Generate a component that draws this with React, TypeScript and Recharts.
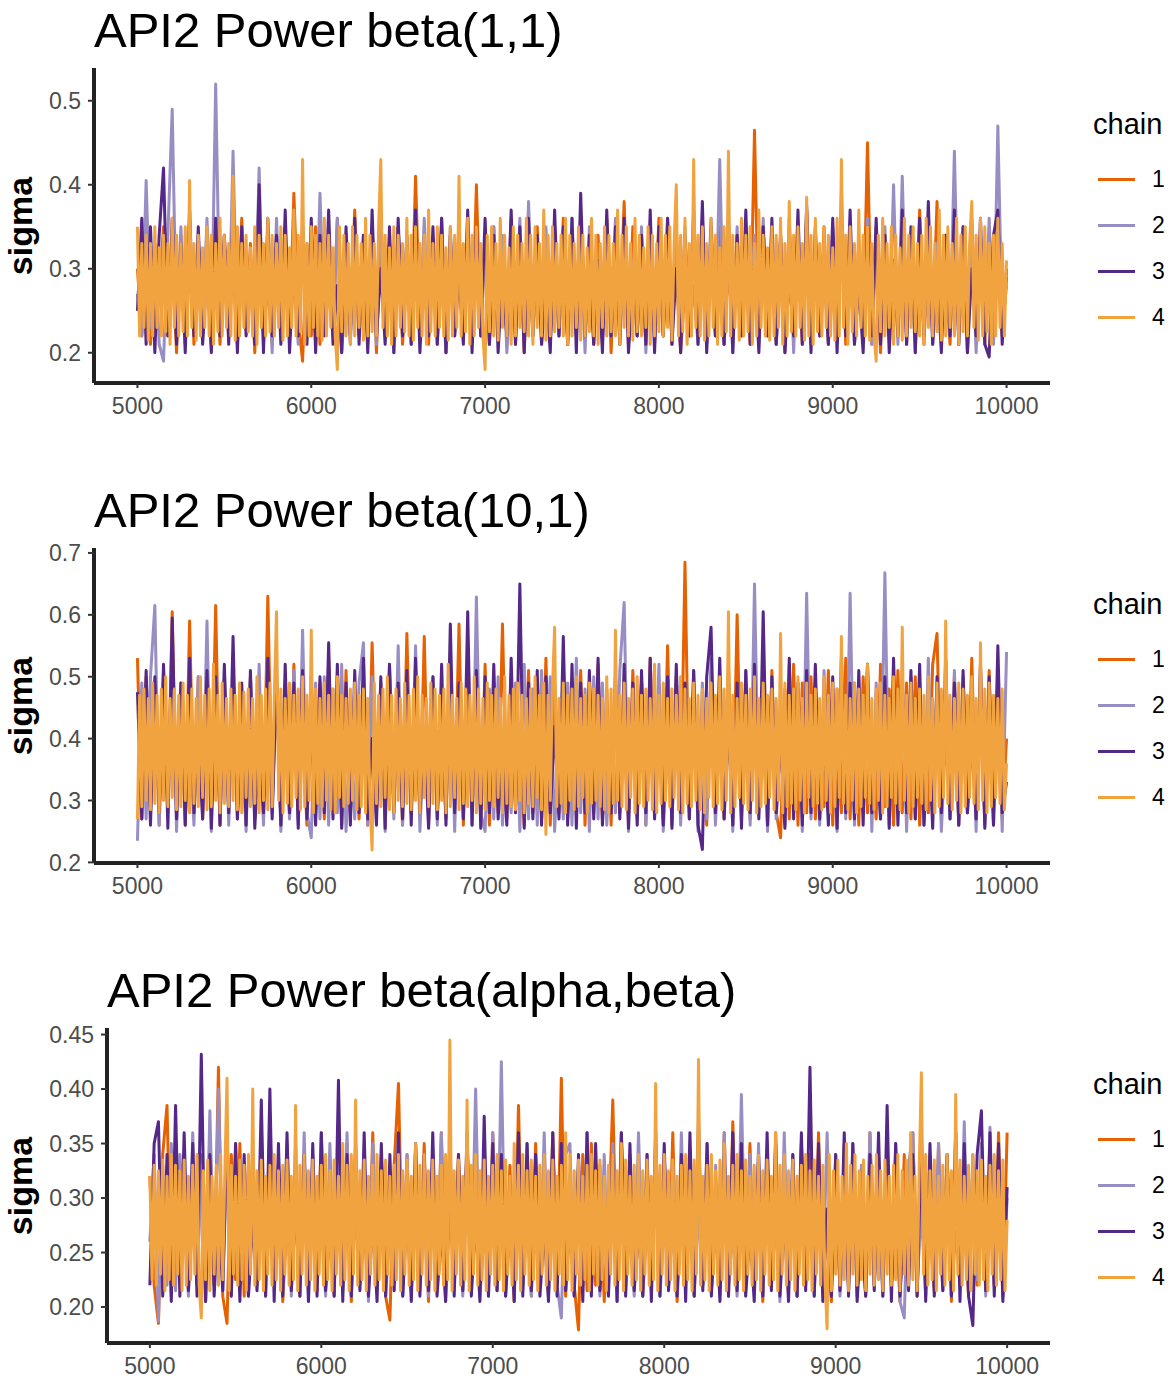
import { LineChart, Line, XAxis, YAxis } from "recharts";

// draws 5000..10000; chains 1-3 thinned to every 25th draw, chain 4 to every 12.5th
const xTicks = [5000, 6000, 7000, 8000, 9000, 10000];
const chains = ["1", "2", "3", "4"];
const chainColors = ["#e66101", "#998ec3", "#542788", "#f1a340"];

// panel 1: beta(1,1)
const p1Chain1 = [
  0.30, 0.22, 0.34, 0.21, 0.33, 0.27, 0.35, 0.22, 0.31, 0.20, 0.34, 0.23, 0.36, 0.21, 0.29, 0.22, 0.35, 0.24, 0.33, 0.21,
  0.34, 0.22, 0.30, 0.21, 0.36, 0.23, 0.33, 0.20, 0.35, 0.22, 0.28, 0.21, 0.34, 0.23, 0.35, 0.22, 0.39, 0.24, 0.19, 0.33,
  0.22, 0.35, 0.21, 0.34, 0.27, 0.22, 0.36, 0.21, 0.33, 0.23, 0.37, 0.22, 0.30, 0.21, 0.35, 0.20, 0.34, 0.23, 0.33, 0.22,
  0.35, 0.21, 0.29, 0.22, 0.41, 0.23, 0.34, 0.21, 0.33, 0.22, 0.36, 0.20, 0.31, 0.23, 0.35, 0.22, 0.34, 0.21, 0.40, 0.22,
  0.33, 0.21, 0.35, 0.23, 0.28, 0.22, 0.36, 0.21, 0.34, 0.20, 0.33, 0.22, 0.35, 0.23, 0.30, 0.21, 0.34, 0.22, 0.36, 0.21,
  0.33, 0.23, 0.35, 0.22, 0.29, 0.21, 0.34, 0.22, 0.36, 0.20, 0.33, 0.23, 0.38, 0.21, 0.35, 0.22, 0.31, 0.21, 0.34, 0.23,
  0.36, 0.22, 0.33, 0.21, 0.35, 0.20, 0.28, 0.22, 0.34, 0.23, 0.36, 0.21, 0.33, 0.22, 0.35, 0.21, 0.30, 0.23, 0.34, 0.22,
  0.33, 0.21, 0.465, 0.22, 0.35, 0.23, 0.29, 0.21, 0.34, 0.20, 0.36, 0.22, 0.33, 0.21, 0.37, 0.23, 0.31, 0.22, 0.35, 0.21,
  0.34, 0.22, 0.36, 0.21, 0.28, 0.23, 0.33, 0.22, 0.45, 0.21, 0.35, 0.20, 0.34, 0.22, 0.30, 0.23, 0.36, 0.21, 0.33, 0.22,
  0.37, 0.21, 0.34, 0.22, 0.38, 0.23, 0.29, 0.21, 0.35, 0.22, 0.33, 0.20, 0.36, 0.22, 0.31, 0.21, 0.34, 0.23, 0.35, 0.22,
  0.29,
];
const p1Chain2 = [
  0.27, 0.22, 0.405, 0.23, 0.33, 0.21, 0.19, 0.34, 0.49, 0.22, 0.35, 0.21, 0.30, 0.23, 0.34, 0.22, 0.36, 0.21, 0.52, 0.23,
  0.33, 0.22, 0.44, 0.21, 0.35, 0.23, 0.29, 0.22, 0.42, 0.21, 0.34, 0.20, 0.36, 0.22, 0.33, 0.23, 0.30, 0.21, 0.35, 0.22,
  0.34, 0.21, 0.39, 0.23, 0.33, 0.22, 0.36, 0.20, 0.28, 0.21, 0.35, 0.22, 0.34, 0.23, 0.31, 0.21, 0.36, 0.22, 0.33, 0.20,
  0.35, 0.22, 0.30, 0.21, 0.34, 0.23, 0.36, 0.22, 0.33, 0.21, 0.29, 0.20, 0.35, 0.22, 0.34, 0.23, 0.36, 0.21, 0.31, 0.22,
  0.33, 0.21, 0.35, 0.22, 0.34, 0.20, 0.28, 0.23, 0.36, 0.21, 0.38, 0.22, 0.33, 0.21, 0.35, 0.23, 0.30, 0.22, 0.34, 0.21,
  0.36, 0.22, 0.33, 0.20, 0.35, 0.23, 0.29, 0.21, 0.34, 0.22, 0.36, 0.21, 0.33, 0.23, 0.31, 0.22, 0.35, 0.20, 0.34, 0.21,
  0.30, 0.22, 0.36, 0.23, 0.33, 0.21, 0.35, 0.22, 0.28, 0.21, 0.34, 0.23, 0.36, 0.22, 0.43, 0.21, 0.33, 0.20, 0.35, 0.22,
  0.31, 0.23, 0.34, 0.21, 0.36, 0.22, 0.33, 0.21, 0.29, 0.22, 0.35, 0.20, 0.34, 0.23, 0.36, 0.21, 0.30, 0.22, 0.33, 0.21,
  0.35, 0.22, 0.39, 0.23, 0.34, 0.21, 0.28, 0.22, 0.36, 0.21, 0.33, 0.23, 0.35, 0.22, 0.40, 0.21, 0.41, 0.22, 0.31, 0.20,
  0.34, 0.22, 0.36, 0.21, 0.33, 0.23, 0.29, 0.22, 0.44, 0.21, 0.35, 0.22, 0.34, 0.20, 0.33, 0.22, 0.36, 0.21, 0.47, 0.23,
  0.28,
];
const p1Chain3 = [
  0.25, 0.36, 0.21, 0.35, 0.20, 0.34, 0.42, 0.22, 0.36, 0.21, 0.33, 0.20, 0.37, 0.22, 0.35, 0.21, 0.30, 0.20, 0.36, 0.22,
  0.34, 0.21, 0.37, 0.20, 0.35, 0.22, 0.29, 0.21, 0.40, 0.20, 0.36, 0.22, 0.34, 0.21, 0.37, 0.20, 0.31, 0.22, 0.35, 0.21,
  0.36, 0.20, 0.34, 0.22, 0.37, 0.21, 0.28, 0.20, 0.35, 0.22, 0.36, 0.21, 0.34, 0.20, 0.37, 0.22, 0.30, 0.21, 0.35, 0.20,
  0.36, 0.22, 0.34, 0.21, 0.37, 0.20, 0.31, 0.22, 0.35, 0.21, 0.36, 0.20, 0.34, 0.22, 0.29, 0.21, 0.37, 0.20, 0.35, 0.22,
  0.36, 0.21, 0.34, 0.20, 0.30, 0.22, 0.37, 0.21, 0.35, 0.20, 0.36, 0.22, 0.34, 0.21, 0.28, 0.20, 0.37, 0.22, 0.35, 0.21,
  0.36, 0.20, 0.39, 0.22, 0.34, 0.21, 0.31, 0.20, 0.37, 0.22, 0.35, 0.21, 0.36, 0.20, 0.29, 0.22, 0.34, 0.21, 0.37, 0.20,
  0.35, 0.22, 0.36, 0.21, 0.30, 0.20, 0.34, 0.22, 0.37, 0.21, 0.38, 0.20, 0.35, 0.22, 0.28, 0.21, 0.36, 0.20, 0.34, 0.22,
  0.37, 0.21, 0.31, 0.20, 0.35, 0.22, 0.36, 0.21, 0.34, 0.20, 0.29, 0.22, 0.37, 0.21, 0.375, 0.20, 0.35, 0.22, 0.30, 0.21,
  0.36, 0.20, 0.34, 0.22, 0.37, 0.21, 0.28, 0.20, 0.35, 0.22, 0.36, 0.21, 0.34, 0.20, 0.31, 0.22, 0.37, 0.21, 0.35, 0.20,
  0.36, 0.22, 0.38, 0.21, 0.29, 0.20, 0.34, 0.22, 0.37, 0.21, 0.35, 0.20, 0.30, 0.22, 0.36, 0.21, 0.195, 0.34, 0.37, 0.21,
  0.30,
];
const p1Chain4 = [
  0.35, 0.22, 0.33, 0.23, 0.34, 0.215, 0.33, 0.22, 0.35, 0.23, 0.325, 0.22, 0.34, 0.225, 0.33, 0.21, 0.36, 0.23, 0.34, 0.22,
  0.33, 0.225, 0.35, 0.22, 0.405, 0.23, 0.33, 0.215, 0.34, 0.22, 0.325, 0.23, 0.35, 0.22, 0.34, 0.21, 0.33, 0.225, 0.36, 0.22,
  0.34, 0.23, 0.33, 0.22, 0.41, 0.215, 0.35, 0.22, 0.33, 0.23, 0.34, 0.225, 0.325, 0.22, 0.35, 0.21, 0.34, 0.23, 0.33, 0.22,
  0.36, 0.225, 0.34, 0.22, 0.33, 0.23, 0.35, 0.215, 0.34, 0.22, 0.325, 0.23, 0.37, 0.22, 0.34, 0.225, 0.43, 0.21, 0.33, 0.22,
  0.35, 0.23, 0.34, 0.22, 0.33, 0.215, 0.36, 0.22, 0.34, 0.23, 0.325, 0.22, 0.18, 0.35, 0.225, 0.34, 0.22, 0.33, 0.21, 0.35,
  0.22, 0.34, 0.23, 0.33, 0.215, 0.36, 0.22, 0.34, 0.225, 0.33, 0.22, 0.35, 0.43, 0.23, 0.34, 0.22, 0.325, 0.21, 0.35, 0.22,
  0.34, 0.23, 0.33, 0.225, 0.36, 0.22, 0.34, 0.215, 0.35, 0.23, 0.33, 0.22, 0.34, 0.21, 0.37, 0.225, 0.33, 0.22, 0.35, 0.23,
  0.34, 0.22, 0.325, 0.215, 0.35, 0.22, 0.34, 0.23, 0.41, 0.22, 0.33, 0.225, 0.36, 0.21, 0.34, 0.22, 0.35, 0.23, 0.33, 0.22,
  0.18, 0.34, 0.225, 0.35, 0.22, 0.33, 0.215, 0.36, 0.23, 0.34, 0.22, 0.325, 0.21, 0.35, 0.22, 0.34, 0.23, 0.33, 0.225, 0.36,
  0.22, 0.34, 0.21, 0.35, 0.23, 0.33, 0.22, 0.37, 0.215, 0.34, 0.22, 0.35, 0.225, 0.33, 0.23, 0.34, 0.22, 0.36, 0.21, 0.34,
  0.22, 0.33, 0.23, 0.35, 0.215, 0.34, 0.22, 0.325, 0.225, 0.36, 0.22, 0.34, 0.21, 0.33, 0.23, 0.35, 0.22, 0.34, 0.225, 0.33,
  0.22, 0.37, 0.21, 0.34, 0.23, 0.35, 0.22, 0.33, 0.215, 0.36, 0.225, 0.34, 0.22, 0.325, 0.23, 0.35, 0.21, 0.34, 0.22, 0.33,
  0.225, 0.36, 0.22, 0.34, 0.23, 0.35, 0.215, 0.33, 0.40, 0.22, 0.34, 0.225, 0.36, 0.21, 0.33, 0.22, 0.43, 0.23, 0.34, 0.22,
  0.35, 0.215, 0.33, 0.22, 0.36, 0.23, 0.34, 0.21, 0.325, 0.22, 0.35, 0.225, 0.44, 0.22, 0.34, 0.23, 0.33, 0.215, 0.36, 0.22,
  0.34, 0.225, 0.35, 0.21, 0.33, 0.22, 0.37, 0.23, 0.34, 0.22, 0.325, 0.215, 0.35, 0.22, 0.34, 0.23, 0.36, 0.21, 0.33, 0.22,
  0.38, 0.225, 0.34, 0.22, 0.35, 0.23, 0.33, 0.215, 0.385, 0.22, 0.34, 0.21, 0.36, 0.225, 0.33, 0.22, 0.35, 0.23, 0.34, 0.22,
  0.325, 0.215, 0.36, 0.22, 0.43, 0.23, 0.34, 0.21, 0.35, 0.225, 0.33, 0.22, 0.37, 0.23, 0.34, 0.22, 0.35, 0.215, 0.33, 0.22,
  0.19, 0.34, 0.225, 0.36, 0.22, 0.33, 0.23, 0.35, 0.21, 0.34, 0.22, 0.325, 0.215, 0.36, 0.22, 0.34, 0.23, 0.35, 0.225, 0.33,
  0.22, 0.34, 0.21, 0.36, 0.23, 0.35, 0.22, 0.33, 0.225, 0.37, 0.215, 0.34, 0.22, 0.35, 0.23, 0.33, 0.22, 0.36, 0.21, 0.34,
  0.225, 0.35, 0.22, 0.33, 0.38, 0.23, 0.34, 0.215, 0.36, 0.22, 0.35, 0.225, 0.33, 0.21, 0.34, 0.22, 0.36, 0.23, 0.33, 0.22,
  0.31,
];

// panel 2: beta(10,1)
const p2Chain1 = [
  0.53, 0.27, 0.50, 0.28, 0.49, 0.26, 0.51, 0.29, 0.605, 0.27, 0.48, 0.26, 0.59, 0.28, 0.50, 0.27, 0.52, 0.29, 0.615, 0.26,
  0.49, 0.28, 0.51, 0.27, 0.40, 0.26, 0.50, 0.28, 0.48, 0.27, 0.63, 0.29, 0.51, 0.26, 0.49, 0.28, 0.52, 0.27, 0.42, 0.26,
  0.50, 0.28, 0.49, 0.27, 0.53, 0.29, 0.48, 0.26, 0.51, 0.28, 0.39, 0.27, 0.50, 0.26, 0.555, 0.28, 0.49, 0.27, 0.52, 0.29,
  0.48, 0.26, 0.57, 0.28, 0.50, 0.27, 0.565, 0.26, 0.49, 0.28, 0.41, 0.27, 0.51, 0.29, 0.585, 0.26, 0.50, 0.28, 0.48, 0.27,
  0.52, 0.26, 0.49, 0.28, 0.585, 0.27, 0.50, 0.29, 0.40, 0.26, 0.51, 0.28, 0.48, 0.27, 0.53, 0.26, 0.49, 0.28, 0.50, 0.27,
  0.42, 0.29, 0.51, 0.26, 0.49, 0.28, 0.52, 0.27, 0.48, 0.26, 0.50, 0.28, 0.39, 0.27, 0.51, 0.29, 0.49, 0.26, 0.53, 0.28,
  0.48, 0.27, 0.55, 0.26, 0.50, 0.28, 0.685, 0.27, 0.49, 0.29, 0.41, 0.26, 0.51, 0.28, 0.48, 0.27, 0.52, 0.26, 0.60, 0.28,
  0.49, 0.27, 0.50, 0.29, 0.40, 0.26, 0.51, 0.28, 0.24, 0.48, 0.27, 0.52, 0.26, 0.49, 0.28, 0.50, 0.27, 0.42, 0.29, 0.51,
  0.26, 0.48, 0.28, 0.53, 0.27, 0.49, 0.26, 0.50, 0.28, 0.39, 0.27, 0.52, 0.29, 0.48, 0.26, 0.51, 0.28, 0.49, 0.27, 0.50,
  0.26, 0.41, 0.28, 0.52, 0.57, 0.27, 0.49, 0.29, 0.50, 0.26, 0.48, 0.28, 0.53, 0.27, 0.49, 0.26, 0.51, 0.28, 0.50, 0.27,
  0.40,
];
const p2Chain2 = [
  0.235, 0.49, 0.27, 0.50, 0.615, 0.26, 0.48, 0.28, 0.51, 0.25, 0.49, 0.27, 0.40, 0.26, 0.50, 0.28, 0.59, 0.25, 0.48, 0.27,
  0.51, 0.26, 0.49, 0.28, 0.41, 0.25, 0.50, 0.27, 0.52, 0.26, 0.48, 0.28, 0.49, 0.25, 0.39, 0.27, 0.51, 0.26, 0.575, 0.28,
  0.24, 0.49, 0.27, 0.50, 0.26, 0.48, 0.28, 0.52, 0.25, 0.40, 0.27, 0.49, 0.555, 0.26, 0.50, 0.28, 0.48, 0.25, 0.51, 0.27,
  0.55, 0.26, 0.49, 0.28, 0.55, 0.25, 0.41, 0.27, 0.50, 0.26, 0.48, 0.28, 0.52, 0.25, 0.49, 0.27, 0.51, 0.26, 0.629, 0.28,
  0.25, 0.48, 0.27, 0.50, 0.26, 0.39, 0.28, 0.49, 0.25, 0.52, 0.27, 0.48, 0.26, 0.51, 0.28, 0.50, 0.25, 0.40, 0.27, 0.49,
  0.26, 0.53, 0.28, 0.48, 0.25, 0.50, 0.27, 0.49, 0.26, 0.41, 0.28, 0.51, 0.62, 0.25, 0.48, 0.27, 0.50, 0.26, 0.49, 0.28,
  0.52, 0.25, 0.39, 0.27, 0.50, 0.26, 0.48, 0.28, 0.51, 0.25, 0.49, 0.27, 0.53, 0.26, 0.40, 0.28, 0.50, 0.25, 0.48, 0.27,
  0.51, 0.26, 0.65, 0.28, 0.49, 0.25, 0.50, 0.27, 0.41, 0.26, 0.52, 0.28, 0.48, 0.25, 0.635, 0.27, 0.49, 0.26, 0.51, 0.28,
  0.39, 0.25, 0.50, 0.27, 0.635, 0.26, 0.48, 0.28, 0.52, 0.25, 0.49, 0.27, 0.668, 0.26, 0.40, 0.28, 0.51, 0.25, 0.50, 0.27,
  0.48, 0.26, 0.53, 0.28, 0.49, 0.25, 0.41, 0.27, 0.51, 0.26, 0.50, 0.28, 0.48, 0.25, 0.52, 0.27, 0.39, 0.26, 0.49, 0.25,
  0.54,
];
const p2Chain3 = [
  0.475, 0.27, 0.51, 0.26, 0.50, 0.28, 0.52, 0.255, 0.595, 0.27, 0.49, 0.26, 0.53, 0.28, 0.41, 0.27, 0.51, 0.255, 0.50, 0.26,
  0.52, 0.28, 0.565, 0.27, 0.49, 0.26, 0.51, 0.255, 0.40, 0.28, 0.53, 0.27, 0.50, 0.26, 0.52, 0.28, 0.49, 0.255, 0.51, 0.27,
  0.42, 0.26, 0.50, 0.28, 0.555, 0.27, 0.52, 0.255, 0.49, 0.26, 0.51, 0.28, 0.53, 0.27, 0.40, 0.26, 0.50, 0.255, 0.52, 0.28,
  0.49, 0.27, 0.51, 0.26, 0.53, 0.28, 0.41, 0.255, 0.50, 0.27, 0.52, 0.26, 0.585, 0.28, 0.49, 0.27, 0.605, 0.26, 0.51, 0.255,
  0.50, 0.28, 0.52, 0.27, 0.39, 0.26, 0.53, 0.28, 0.65, 0.255, 0.49, 0.27, 0.51, 0.26, 0.50, 0.28, 0.42, 0.27, 0.565, 0.26,
  0.52, 0.255, 0.49, 0.28, 0.51, 0.27, 0.53, 0.26, 0.40, 0.28, 0.50, 0.27, 0.52, 0.255, 0.49, 0.26, 0.51, 0.28, 0.53, 0.27,
  0.41, 0.26, 0.50, 0.255, 0.52, 0.28, 0.49, 0.27, 0.51, 0.26, 0.221, 0.50, 0.58, 0.28, 0.53, 0.27, 0.42, 0.26, 0.49, 0.255,
  0.51, 0.28, 0.52, 0.27, 0.605, 0.26, 0.50, 0.28, 0.40, 0.255, 0.53, 0.27, 0.49, 0.26, 0.51, 0.28, 0.52, 0.27, 0.41, 0.26,
  0.50, 0.255, 0.53, 0.28, 0.49, 0.27, 0.51, 0.26, 0.52, 0.28, 0.39, 0.27, 0.50, 0.255, 0.53, 0.26, 0.49, 0.28, 0.51, 0.27,
  0.52, 0.26, 0.42, 0.255, 0.50, 0.28, 0.53, 0.27, 0.49, 0.26, 0.51, 0.28, 0.40, 0.27, 0.52, 0.255, 0.50, 0.26, 0.55, 0.28,
  0.33,
];
const p2Chain4 = [
  0.27, 0.47, 0.29, 0.48, 0.30, 0.465, 0.285, 0.49, 0.295, 0.47, 0.28, 0.48, 0.30, 0.50, 0.29, 0.465, 0.305, 0.48, 0.285, 0.47,
  0.29, 0.49, 0.30, 0.47, 0.28, 0.48, 0.295, 0.465, 0.29, 0.50, 0.305, 0.47, 0.285, 0.48, 0.29, 0.52, 0.30, 0.47, 0.28, 0.49,
  0.295, 0.465, 0.29, 0.48, 0.30, 0.47, 0.285, 0.49, 0.28, 0.475, 0.305, 0.48, 0.29, 0.465, 0.295, 0.50, 0.28, 0.47, 0.30, 0.48,
  0.285, 0.49, 0.29, 0.47, 0.605, 0.30, 0.48, 0.28, 0.465, 0.295, 0.49, 0.29, 0.47, 0.305, 0.48, 0.285, 0.50, 0.29, 0.47, 0.30,
  0.575, 0.28, 0.48, 0.295, 0.465, 0.29, 0.49, 0.30, 0.47, 0.285, 0.48, 0.28, 0.50, 0.305, 0.47, 0.29, 0.465, 0.295, 0.48, 0.30,
  0.49, 0.285, 0.47, 0.29, 0.48, 0.28, 0.465, 0.30, 0.22, 0.49, 0.295, 0.47, 0.29, 0.48, 0.305, 0.50, 0.285, 0.47, 0.28, 0.48,
  0.30, 0.465, 0.29, 0.49, 0.295, 0.47, 0.285, 0.48, 0.30, 0.50, 0.28, 0.47, 0.305, 0.465, 0.29, 0.49, 0.295, 0.48, 0.285, 0.47,
  0.30, 0.48, 0.28, 0.52, 0.29, 0.47, 0.305, 0.465, 0.285, 0.49, 0.295, 0.48, 0.29, 0.47, 0.30, 0.50, 0.28, 0.48, 0.295, 0.465,
  0.285, 0.49, 0.30, 0.47, 0.29, 0.48, 0.305, 0.465, 0.28, 0.50, 0.295, 0.47, 0.29, 0.48, 0.285, 0.49, 0.30, 0.47, 0.28, 0.465,
  0.295, 0.48, 0.29, 0.50, 0.305, 0.47, 0.285, 0.49, 0.245, 0.47, 0.30, 0.48, 0.58, 0.29, 0.465, 0.295, 0.49, 0.28, 0.47, 0.30,
  0.48, 0.285, 0.50, 0.29, 0.465, 0.305, 0.47, 0.28, 0.49, 0.295, 0.48, 0.30, 0.47, 0.29, 0.465, 0.285, 0.50, 0.28, 0.48, 0.295,
  0.575, 0.30, 0.47, 0.29, 0.49, 0.285, 0.465, 0.305, 0.48, 0.28, 0.50, 0.295, 0.47, 0.29, 0.48, 0.30, 0.465, 0.285, 0.52, 0.28,
  0.47, 0.295, 0.49, 0.30, 0.465, 0.29, 0.48, 0.305, 0.47, 0.285, 0.50, 0.28, 0.48, 0.295, 0.465, 0.29, 0.49, 0.30, 0.47, 0.285,
  0.48, 0.28, 0.465, 0.305, 0.49, 0.29, 0.47, 0.295, 0.50, 0.285, 0.48, 0.30, 0.605, 0.28, 0.47, 0.29, 0.465, 0.305, 0.49, 0.295,
  0.47, 0.285, 0.48, 0.30, 0.50, 0.28, 0.465, 0.29, 0.49, 0.295, 0.47, 0.305, 0.48, 0.285, 0.465, 0.30, 0.57, 0.28, 0.49, 0.29,
  0.47, 0.295, 0.48, 0.285, 0.50, 0.30, 0.465, 0.28, 0.49, 0.305, 0.47, 0.29, 0.48, 0.295, 0.465, 0.285, 0.50, 0.30, 0.47, 0.28,
  0.49, 0.29, 0.48, 0.305, 0.565, 0.295, 0.47, 0.285, 0.465, 0.30, 0.49, 0.28, 0.48, 0.29, 0.47, 0.305, 0.52, 0.295, 0.465, 0.285,
  0.48, 0.30, 0.49, 0.28, 0.47, 0.29, 0.465, 0.305, 0.50, 0.295, 0.48, 0.285, 0.58, 0.30, 0.47, 0.28, 0.49, 0.29, 0.465, 0.305,
  0.48, 0.295, 0.47, 0.285, 0.50, 0.30, 0.465, 0.28, 0.49, 0.29, 0.48, 0.305, 0.59, 0.295, 0.47, 0.285, 0.465, 0.30, 0.49, 0.28,
  0.48, 0.29, 0.47, 0.305, 0.50, 0.295, 0.465, 0.285, 0.555, 0.30, 0.48, 0.28, 0.49, 0.29, 0.47, 0.305, 0.465, 0.295, 0.48, 0.285,
  0.36,
];

// panel 3: beta(alpha,beta)
const p3Chain1 = [
  0.32, 0.22, 0.185, 0.34, 0.385, 0.21, 0.35, 0.225, 0.33, 0.215, 0.29, 0.22, 0.34, 0.205, 0.36, 0.22, 0.42, 0.21, 0.185, 0.34,
  0.225, 0.35, 0.21, 0.33, 0.27, 0.22, 0.34, 0.215, 0.36, 0.22, 0.33, 0.205, 0.28, 0.22, 0.35, 0.21, 0.34, 0.225, 0.33, 0.215,
  0.36, 0.22, 0.29, 0.21, 0.34, 0.225, 0.35, 0.205, 0.33, 0.22, 0.27, 0.215, 0.36, 0.22, 0.34, 0.21, 0.188, 0.33, 0.405, 0.22,
  0.34, 0.215, 0.28, 0.22, 0.35, 0.205, 0.33, 0.225, 0.36, 0.21, 0.29, 0.22, 0.34, 0.215, 0.35, 0.22, 0.33, 0.21, 0.27, 0.225,
  0.36, 0.215, 0.34, 0.22, 0.33, 0.205, 0.385, 0.22, 0.28, 0.21, 0.35, 0.225, 0.34, 0.215, 0.36, 0.22, 0.41, 0.21, 0.29, 0.22,
  0.179, 0.34, 0.215, 0.35, 0.22, 0.33, 0.205, 0.27, 0.39, 0.22, 0.36, 0.215, 0.34, 0.225, 0.33, 0.21, 0.28, 0.22, 0.35, 0.215,
  0.34, 0.22, 0.36, 0.205, 0.29, 0.225, 0.33, 0.21, 0.35, 0.22, 0.34, 0.215, 0.27, 0.22, 0.36, 0.21, 0.37, 0.225, 0.33, 0.215,
  0.35, 0.22, 0.28, 0.205, 0.34, 0.22, 0.36, 0.215, 0.33, 0.225, 0.29, 0.21, 0.35, 0.22, 0.34, 0.215, 0.36, 0.22, 0.27, 0.205,
  0.33, 0.22, 0.35, 0.215, 0.34, 0.225, 0.28, 0.21, 0.36, 0.22, 0.33, 0.215, 0.35, 0.22, 0.29, 0.205, 0.34, 0.225, 0.36, 0.21,
  0.33, 0.22, 0.27, 0.215, 0.35, 0.22, 0.34, 0.205, 0.36, 0.225, 0.28, 0.21, 0.33, 0.22, 0.35, 0.215, 0.34, 0.22, 0.36, 0.21,
  0.36,
];
const p3Chain2 = [
  0.26, 0.34, 0.187, 0.33, 0.22, 0.35, 0.215, 0.34, 0.28, 0.21, 0.36, 0.22, 0.33, 0.205, 0.38, 0.22, 0.40, 0.215, 0.34, 0.21,
  0.35, 0.22, 0.29, 0.21, 0.33, 0.225, 0.36, 0.21, 0.34, 0.22, 0.27, 0.215, 0.35, 0.21, 0.33, 0.22, 0.36, 0.205, 0.34, 0.22,
  0.28, 0.21, 0.35, 0.22, 0.33, 0.215, 0.36, 0.21, 0.29, 0.22, 0.34, 0.205, 0.35, 0.22, 0.33, 0.21, 0.27, 0.225, 0.36, 0.21,
  0.34, 0.22, 0.35, 0.215, 0.28, 0.21, 0.33, 0.22, 0.36, 0.205, 0.34, 0.22, 0.29, 0.21, 0.35, 0.22, 0.40, 0.215, 0.33, 0.21,
  0.36, 0.22, 0.425, 0.21, 0.27, 0.22, 0.34, 0.215, 0.35, 0.21, 0.33, 0.225, 0.36, 0.21, 0.28, 0.22, 0.19, 0.34, 0.35, 0.21,
  0.33, 0.22, 0.36, 0.215, 0.29, 0.21, 0.34, 0.22, 0.35, 0.205, 0.33, 0.22, 0.27, 0.21, 0.36, 0.22, 0.34, 0.215, 0.35, 0.21,
  0.28, 0.22, 0.33, 0.21, 0.36, 0.225, 0.34, 0.21, 0.29, 0.22, 0.35, 0.215, 0.33, 0.21, 0.36, 0.22, 0.27, 0.21, 0.395, 0.22,
  0.34, 0.215, 0.35, 0.21, 0.33, 0.22, 0.28, 0.205, 0.36, 0.22, 0.34, 0.21, 0.35, 0.225, 0.29, 0.21, 0.33, 0.22, 0.36, 0.215,
  0.34, 0.21, 0.27, 0.22, 0.35, 0.21, 0.33, 0.215, 0.36, 0.22, 0.28, 0.21, 0.34, 0.22, 0.35, 0.205, 0.19, 0.33, 0.36, 0.22,
  0.29, 0.21, 0.34, 0.22, 0.35, 0.215, 0.33, 0.21, 0.27, 0.22, 0.37, 0.21, 0.34, 0.225, 0.35, 0.21, 0.365, 0.22, 0.33, 0.21,
  0.30,
];
const p3Chain3 = [
  0.22, 0.35, 0.37, 0.21, 0.34, 0.205, 0.385, 0.21, 0.36, 0.215, 0.35, 0.21, 0.432, 0.205, 0.34, 0.21, 0.29, 0.215, 0.36, 0.21,
  0.35, 0.205, 0.34, 0.21, 0.28, 0.215, 0.39, 0.21, 0.40, 0.205, 0.35, 0.21, 0.36, 0.215, 0.29, 0.21, 0.34, 0.205, 0.35, 0.21,
  0.36, 0.215, 0.27, 0.21, 0.408, 0.205, 0.34, 0.21, 0.35, 0.215, 0.36, 0.21, 0.28, 0.205, 0.35, 0.21, 0.34, 0.215, 0.36, 0.21,
  0.29, 0.205, 0.35, 0.21, 0.34, 0.215, 0.36, 0.21, 0.27, 0.205, 0.35, 0.21, 0.34, 0.215, 0.36, 0.21, 0.28, 0.205, 0.375, 0.21,
  0.35, 0.215, 0.34, 0.21, 0.29, 0.205, 0.36, 0.21, 0.35, 0.215, 0.34, 0.21, 0.27, 0.205, 0.36, 0.21, 0.35, 0.215, 0.28, 0.21,
  0.34, 0.205, 0.36, 0.21, 0.35, 0.215, 0.29, 0.21, 0.34, 0.205, 0.36, 0.21, 0.35, 0.215, 0.27, 0.21, 0.34, 0.205, 0.36, 0.21,
  0.35, 0.215, 0.28, 0.21, 0.34, 0.205, 0.36, 0.21, 0.37, 0.215, 0.35, 0.21, 0.29, 0.205, 0.34, 0.21, 0.36, 0.215, 0.35, 0.21,
  0.27, 0.205, 0.34, 0.21, 0.36, 0.215, 0.35, 0.21, 0.28, 0.205, 0.34, 0.21, 0.36, 0.215, 0.42, 0.21, 0.35, 0.205, 0.29, 0.21,
  0.34, 0.215, 0.36, 0.21, 0.35, 0.205, 0.27, 0.21, 0.34, 0.215, 0.36, 0.21, 0.385, 0.205, 0.35, 0.21, 0.28, 0.215, 0.34, 0.21,
  0.36, 0.205, 0.35, 0.21, 0.29, 0.215, 0.34, 0.21, 0.36, 0.205, 0.35, 0.21, 0.183, 0.34, 0.38, 0.215, 0.36, 0.21, 0.35, 0.205,
  0.31,
];
const p3Chain4 = [
  0.32, 0.225, 0.33, 0.22, 0.325, 0.23, 0.335, 0.215, 0.32, 0.225, 0.34, 0.22, 0.33, 0.23, 0.325, 0.215, 0.335, 0.22, 0.32, 0.225,
  0.33, 0.23, 0.34, 0.22, 0.19, 0.325, 0.225, 0.335, 0.215, 0.32, 0.23, 0.33, 0.22, 0.34, 0.225, 0.325, 0.41, 0.215, 0.33, 0.23,
  0.32, 0.22, 0.335, 0.225, 0.33, 0.215, 0.34, 0.23, 0.40, 0.22, 0.325, 0.225, 0.335, 0.215, 0.32, 0.23, 0.33, 0.22, 0.34, 0.225,
  0.325, 0.215, 0.33, 0.23, 0.335, 0.22, 0.32, 0.225, 0.385, 0.215, 0.33, 0.23, 0.34, 0.22, 0.325, 0.225, 0.335, 0.215, 0.32, 0.23,
  0.33, 0.22, 0.34, 0.225, 0.325, 0.215, 0.335, 0.23, 0.32, 0.22, 0.35, 0.225, 0.33, 0.215, 0.34, 0.23, 0.39, 0.22, 0.325, 0.225,
  0.335, 0.215, 0.32, 0.23, 0.33, 0.22, 0.34, 0.225, 0.325, 0.215, 0.335, 0.23, 0.32, 0.22, 0.33, 0.225, 0.34, 0.215, 0.325, 0.23,
  0.335, 0.22, 0.32, 0.225, 0.35, 0.215, 0.33, 0.23, 0.34, 0.22, 0.325, 0.225, 0.335, 0.215, 0.32, 0.23, 0.33, 0.22, 0.34, 0.225,
  0.445, 0.215, 0.325, 0.23, 0.335, 0.22, 0.32, 0.225, 0.39, 0.215, 0.33, 0.23, 0.34, 0.22, 0.325, 0.225, 0.335, 0.215, 0.32, 0.23,
  0.33, 0.22, 0.34, 0.225, 0.325, 0.215, 0.335, 0.23, 0.32, 0.22, 0.35, 0.225, 0.33, 0.215, 0.34, 0.23, 0.325, 0.22, 0.335, 0.225,
  0.32, 0.215, 0.33, 0.23, 0.34, 0.22, 0.325, 0.225, 0.335, 0.215, 0.32, 0.23, 0.33, 0.22, 0.36, 0.225, 0.34, 0.215, 0.325, 0.23,
  0.335, 0.22, 0.32, 0.225, 0.33, 0.215, 0.34, 0.23, 0.325, 0.22, 0.335, 0.225, 0.32, 0.215, 0.33, 0.23, 0.34, 0.22, 0.325, 0.225,
  0.35, 0.215, 0.335, 0.23, 0.32, 0.22, 0.33, 0.225, 0.34, 0.215, 0.325, 0.23, 0.335, 0.22, 0.32, 0.225, 0.405, 0.215, 0.33, 0.23,
  0.34, 0.22, 0.325, 0.225, 0.335, 0.215, 0.32, 0.23, 0.33, 0.22, 0.34, 0.225, 0.325, 0.215, 0.335, 0.23, 0.427, 0.22, 0.32, 0.225,
  0.33, 0.215, 0.34, 0.23, 0.325, 0.22, 0.335, 0.225, 0.35, 0.215, 0.32, 0.23, 0.33, 0.22, 0.34, 0.225, 0.325, 0.215, 0.335, 0.23,
  0.32, 0.22, 0.33, 0.225, 0.34, 0.215, 0.325, 0.23, 0.335, 0.22, 0.32, 0.225, 0.36, 0.215, 0.33, 0.23, 0.34, 0.22, 0.325, 0.225,
  0.335, 0.215, 0.32, 0.23, 0.33, 0.22, 0.34, 0.225, 0.325, 0.215, 0.335, 0.23, 0.32, 0.22, 0.33, 0.225, 0.18, 0.34, 0.215, 0.325,
  0.23, 0.335, 0.22, 0.32, 0.225, 0.35, 0.215, 0.33, 0.23, 0.34, 0.22, 0.325, 0.225, 0.335, 0.215, 0.32, 0.23, 0.33, 0.22, 0.34,
  0.225, 0.325, 0.215, 0.335, 0.23, 0.32, 0.22, 0.33, 0.225, 0.34, 0.215, 0.325, 0.23, 0.335, 0.22, 0.36, 0.225, 0.32, 0.215, 0.33,
  0.415, 0.23, 0.34, 0.22, 0.325, 0.225, 0.335, 0.215, 0.32, 0.23, 0.33, 0.22, 0.34, 0.225, 0.325, 0.215, 0.395, 0.23, 0.335, 0.22,
  0.32, 0.225, 0.33, 0.215, 0.34, 0.23, 0.325, 0.22, 0.335, 0.225, 0.32, 0.215, 0.33, 0.23, 0.34, 0.22, 0.325, 0.225, 0.335, 0.215,
  0.28,
];

const FONT = "'Liberation Sans', Arial, Helvetica, sans-serif";
const PANEL_H = 480;

interface PanelProps {
  top: number;
  title: string;
  plotLeft: number;
  series: number[][];
  yDomain: [number, number];
  yTicks: number[];
  digits: number;
}

function TracePanel({ top, title, plotLeft, series, yDomain, yTicks, digits }: PanelProps) {
  // each chain keeps its own thinning, spread evenly over 5000..10000
  const chainRows = series.map((s) =>
    s.map((v, i) => ({ it: 5000 + (i * 5000) / (s.length - 1), v }))
  );
  const yAxisW = 80;
  return (
    <div style={{ position: "absolute", left: 0, top, width: 1176, height: PANEL_H }}>
      <div
        style={{
          position: "absolute", left: plotLeft, top: 6, fontSize: 49, lineHeight: 1,
          fontFamily: FONT, color: "#000", whiteSpace: "nowrap",
        }}
      >
        {title}
      </div>
      <div
        style={{
          position: "absolute", left: 20 - 100, top: 226 - 17, width: 200, height: 34,
          textAlign: "center", fontSize: 34, lineHeight: "34px", fontWeight: "bold",
          fontFamily: FONT, transform: "rotate(-90deg)", color: "#000",
        }}
      >
        sigma
      </div>
      <LineChart
        width={1176}
        height={PANEL_H}
        margin={{ top: 68, right: 126, bottom: 57, left: plotLeft - yAxisW }}
      >
        <XAxis
          dataKey="it"
          type="number"
          domain={[4750, 10250]}
          ticks={xTicks}
          allowDataOverflow
          height={40}
          axisLine={{ stroke: "#222", strokeWidth: 4 }}
          tickLine={{ stroke: "#333", strokeWidth: 2 }}
          tickSize={5}
          tickMargin={10}
          tick={{ fill: "#4d4d4d", fontSize: 23, fontFamily: FONT }}
        />
        <YAxis
          type="number"
          dataKey="v"
          domain={yDomain}
          ticks={yTicks}
          allowDataOverflow
          width={yAxisW}
          axisLine={{ stroke: "#222", strokeWidth: 4 }}
          tickLine={{ stroke: "#333", strokeWidth: 2 }}
          tickSize={6}
          tickMargin={7}
          tickFormatter={(v: number) => v.toFixed(digits)}
          tick={{ fill: "#4d4d4d", fontSize: 23, fontFamily: FONT }}
        />
        {chains.map((c, k) => (
          <Line
            key={c}
            name={c}
            type="linear"
            data={chainRows[k]}
            dataKey="v"
            stroke={chainColors[k]}
            strokeWidth={3}
            strokeLinejoin="round"
            dot={false}
            activeDot={false}
            isAnimationActive={false}
          />
        ))}
      </LineChart>
      <div
        style={{
          position: "absolute", left: 1093, top: 110, fontSize: 29, lineHeight: 1,
          fontFamily: FONT, color: "#000",
        }}
      >
        chain
      </div>
      {chains.map((c, k) => (
        <div key={c}>
          <div
            style={{
              position: "absolute", left: 1098, top: 178 + k * 46, width: 37, height: 2.5,
              background: chainColors[k],
            }}
          />
          <div
            style={{
              position: "absolute", left: 1152, top: 179 + k * 46 - 12, fontSize: 23,
              lineHeight: "24px", fontFamily: FONT, color: "#000",
            }}
          >
            {c}
          </div>
        </div>
      ))}
    </div>
  );
}

export default function App() {
  return (
    <div style={{ position: "absolute", left: 0, top: 0, width: 1176, height: 1382, background: "#fff" }}>
      <TracePanel
        top={0}
        title="API2 Power beta(1,1)"
        plotLeft={94}
        series={[p1Chain1, p1Chain2, p1Chain3, p1Chain4]}
        yDomain={[0.164, 0.539]}
        yTicks={[0.2, 0.3, 0.4, 0.5]}
        digits={1}
      />
      <TracePanel
        top={480}
        title="API2 Power beta(10,1)"
        plotLeft={94}
        series={[p2Chain1, p2Chain2, p2Chain3, p2Chain4]}
        yDomain={[0.199, 0.708]}
        yTicks={[0.2, 0.3, 0.4, 0.5, 0.6, 0.7]}
        digits={1}
      />
      <TracePanel
        top={960}
        title="API2 Power beta(alpha,beta)"
        plotLeft={107}
        series={[p3Chain1, p3Chain2, p3Chain3, p3Chain4]}
        yDomain={[0.167, 0.456]}
        yTicks={[0.2, 0.25, 0.3, 0.35, 0.4, 0.45]}
        digits={2}
      />
    </div>
  );
}
